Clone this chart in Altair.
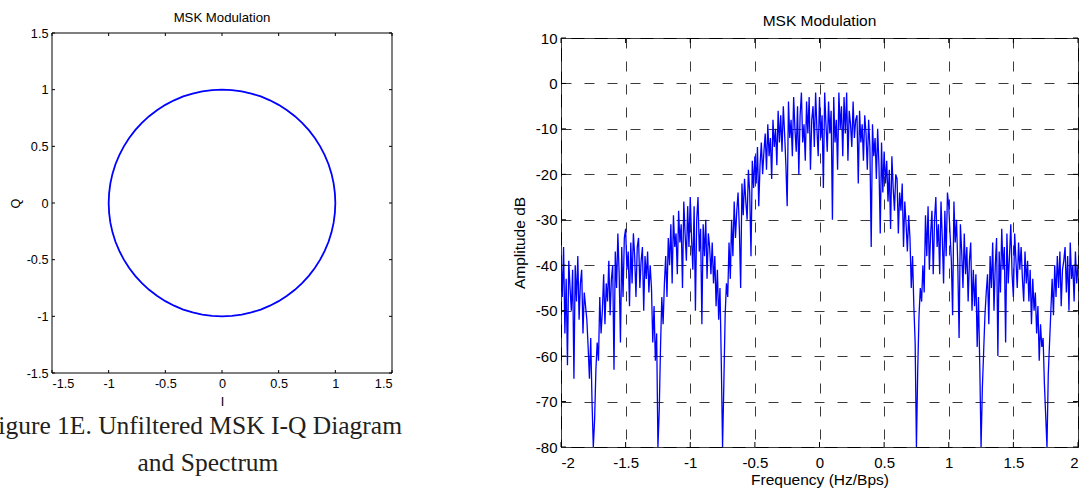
import altair as alt
import numpy as np
import pandas as pd

TITLE = "MSK Modulation"
CAPTION_1 = "Figure 1E. Unfiltered MSK I-Q Diagram"
CAPTION_2 = "and Spectrum"

# ---- I-Q diagram (unit circle, 5 degree steps) ----
iq_i = [1, 0.996, 0.985, 0.966, 0.940, 0.906, 0.866, 0.819, 0.766, 0.707,
        0.643, 0.574, 0.5, 0.423, 0.342, 0.259, 0.174, 0.087, 0,
        -0.087, -0.174, -0.259, -0.342, -0.423, -0.5, -0.574, -0.643, -0.707,
        -0.766, -0.819, -0.866, -0.906, -0.940, -0.966, -0.985, -0.996, -1,
        -0.996, -0.985, -0.966, -0.940, -0.906, -0.866, -0.819, -0.766, -0.707,
        -0.643, -0.574, -0.5, -0.423, -0.342, -0.259, -0.174, -0.087, 0,
        0.087, 0.174, 0.259, 0.342, 0.423, 0.5, 0.574, 0.643, 0.707,
        0.766, 0.819, 0.866, 0.906, 0.940, 0.966, 0.985, 0.996, 1]
iq_q = [0, 0.087, 0.174, 0.259, 0.342, 0.423, 0.5, 0.574, 0.643, 0.707,
        0.766, 0.819, 0.866, 0.906, 0.940, 0.966, 0.985, 0.996, 1,
        0.996, 0.985, 0.966, 0.940, 0.906, 0.866, 0.819, 0.766, 0.707,
        0.643, 0.574, 0.5, 0.423, 0.342, 0.259, 0.174, 0.087, 0,
        -0.087, -0.174, -0.259, -0.342, -0.423, -0.5, -0.574, -0.643, -0.707,
        -0.766, -0.819, -0.866, -0.906, -0.940, -0.966, -0.985, -0.996, -1,
        -0.996, -0.985, -0.966, -0.940, -0.906, -0.866, -0.819, -0.766, -0.707,
        -0.643, -0.574, -0.5, -0.423, -0.342, -0.259, -0.174, -0.087, 0]
iq_ticks = [-1.5, -1, -0.5, 0, 0.5, 1, 1.5]

# ---- Spectrum (Amplitude dB read every 0.01 Hz/Bps from -2 to 2) ----
freq = np.round(np.linspace(-2, 2, 401), 2)
amp_db = [
    -38, -47, -36, -55, -43, -62, -39, -45, -50, -41,   # -2.00
    -65, -40, -48, -38, -52, -44, -41, -55, -46, -49,   # -1.90
    -52, -58, -65, -56, -70, -80, -74, -63, -57, -61,   # -1.80
    -47, -55, -50, -42, -53, -44, -48, -39, -51, -43,   # -1.70
    -40, -63, -37, -45, -33, -42, -57, -36, -47, -34,   # -1.60
    -32, -41, -37, -49, -35, -44, -33, -38, -47, -36,   # -1.50
    -34, -45, -39, -36, -50, -38, -43, -37, -46, -40,   # -1.40
    -45, -57, -49, -61, -55, -80, -72, -58, -47, -53,   # -1.30
    -44, -38, -47, -34, -40, -31, -44, -29, -36, -33,   # -1.20
    -42, -28, -35, -31, -45, -26, -33, -39, -27, -36,   # -1.10
    -25, -34, -41, -27, -50, -30, -25, -37, -32, -53,   # -1.00
    -31, -38, -30, -43, -33, -36, -42, -35, -44, -38,   # -0.90
    -49, -41, -52, -45, -61, -80, -66, -51, -44, -47,   # -0.80
    -35, -43, -30, -38, -26, -34, -28, -24, -32, -45,   # -0.70
    -22, -29, -21, -26, -30, -19, -24, -38, -17, -23,   # -0.60
    -16, -22, -14, -27, -18, -13, -20, -15, -11, -19,   # -0.50
    -9, -16, -12, -21, -8, -14, -10, -18, -6, -13,      # -0.40
    -7, -15, -5, -11, -18, -27, -4, -12, -8, -16,       # -0.30
    -3, -10, -15, -5, -20, -7, -2, -13, -9, -17,        # -0.20
    -4, -11, -3, -19, -8, -5, -14, -2, -10, -16,        # -0.10
    -3, -12, -7, -23, -2, -9, -15, -4, -11, -6,         # 0.00
    -30, -3, -13, -8, -19, -2, -10, -5, -16, -3,        # 0.10
    -11, -2, -17, -6, -9, -14, -4, -12, -8, -7,         # 0.20
    -22, -6, -13, -9, -17, -7, -11, -19, -8, -14,       # 0.30
    -36, -9, -16, -12, -21, -10, -18, -33, -13, -24,    # 0.40
    -15, -22, -17, -26, -19, -32, -16, -23, -28, -20,   # 0.50
    -21, -33, -24, -28, -22, -36, -26, -31, -37, -29,   # 0.60
    -34, -45, -38, -49, -57, -80, -63, -51, -45, -48,   # 0.70
    -40, -46, -29, -38, -27, -41, -33, -28, -42, -30,   # 0.80
    -25, -36, -31, -42, -26, -34, -44, -28, -38, -24,   # 0.90
    -27, -33, -39, -51, -26, -35, -30, -40, -56, -31,   # 1.00
    -37, -45, -33, -42, -36, -48, -39, -35, -50, -41,   # 1.10
    -49, -42, -58, -47, -62, -80, -67, -59, -51, -46,   # 1.20
    -42, -53, -38, -45, -35, -50, -40, -34, -60, -37,   # 1.30
    -46, -32, -41, -36, -57, -33, -44, -38, -31, -42,   # 1.40
    -47, -33, -39, -45, -35, -41, -36, -43, -48, -37,   # 1.50
    -44, -39, -48, -41, -53, -43, -50, -46, -55, -49,   # 1.60
    -61, -53, -58, -56, -66, -73, -80, -64, -57, -50,   # 1.70
    -43, -51, -40, -47, -38, -45, -37, -49, -41, -39,   # 1.80
    -36, -46, -38, -50, -35, -43, -40, -48, -37, -44,   # 1.90
    -40,                                                # 2.00
]
spec_xticks = [-2, -1.5, -1, -0.5, 0, 0.5, 1, 1.5, 2]
spec_yticks = [10, 0, -10, -20, -30, -40, -50, -60, -70, -80]

FONT = "Liberation Sans"
BLUE = "#0000ff"


def mk_axis(fs, tfs, values, title, lp, tp, grid=False):
    kw = dict(values=values, title=title, grid=grid, ticks=False, domain=False,
              labelFont=FONT, labelFontSize=fs, labelColor="black",
              titleFont=FONT, titleFontSize=tfs, titleFontWeight="normal",
              titleColor="black", labelPadding=lp, titlePadding=tp,
              labelExpr="datum.value + ''")
    if grid:
        kw.update(gridColor="#3a3a3a", gridDash=[10, 13], gridWidth=1)
    return alt.Axis(**kw)


# ---------------- left panel ----------------
# plot box is 340 x 340 and sits 5 px higher than the spectrum's box
LW = 340
LUP = 5
LVH = 340 - LUP
L_FS = 12.7
iq_df = pd.DataFrame({"I": iq_i, "Q": iq_q, "k": list(range(len(iq_i)))})
iq_tick_df = pd.DataFrame({"v": iq_ticks})
sx_l = alt.Scale(domain=[-1.5, 1.5], nice=False, zero=False)
sy_l = alt.Scale(domain=[-1.5, 1.5], nice=False, zero=False, range=[LVH, -LUP])

ax_li = mk_axis(L_FS, L_FS, iq_ticks, "I", 4, 6)
ax_lq = mk_axis(L_FS, L_FS, iq_ticks, "Q", 4, 4)

circle = alt.Chart(iq_df).mark_line(color=BLUE, strokeWidth=1.8).encode(
    x=alt.X("I:Q", scale=sx_l, axis=ax_li),
    y=alt.Y("Q:Q", scale=sy_l, axis=ax_lq),
    order="k:Q",
)
l_top = alt.Chart(iq_tick_df).mark_rule(color="black").encode(
    x=alt.X("v:Q", scale=sx_l, axis=ax_li), y=alt.value(-LUP), y2=alt.value(-LUP + 3))
l_bot = alt.Chart(iq_tick_df).mark_rule(color="black").encode(
    x=alt.X("v:Q", scale=sx_l, axis=ax_li), y=alt.value(LVH), y2=alt.value(LVH - 3))
l_left = alt.Chart(iq_tick_df).mark_rule(color="black").encode(
    y=alt.Y("v:Q", scale=sy_l, axis=ax_lq), x=alt.value(0), x2=alt.value(3))
l_right = alt.Chart(iq_tick_df).mark_rule(color="black").encode(
    y=alt.Y("v:Q", scale=sy_l, axis=ax_lq), x=alt.value(LW), x2=alt.value(LW - 3))

box_df = pd.DataFrame({"lo": [-1.5], "hi": [1.5]})
box_h = alt.Chart(box_df).mark_rule(color="black").encode(
    x=alt.X("lo:Q", scale=sx_l, axis=ax_li), x2="hi:Q",
    y=alt.Y("lo:Q", scale=sy_l, axis=ax_lq))
box_h2 = alt.Chart(box_df).mark_rule(color="black").encode(
    x=alt.X("lo:Q", scale=sx_l, axis=ax_li), x2="hi:Q",
    y=alt.Y("hi:Q", scale=sy_l, axis=ax_lq))
box_v = alt.Chart(box_df).mark_rule(color="black").encode(
    y=alt.Y("lo:Q", scale=sy_l, axis=ax_lq), y2="hi:Q",
    x=alt.X("lo:Q", scale=sx_l, axis=ax_li))
box_v2 = alt.Chart(box_df).mark_rule(color="black").encode(
    y=alt.Y("lo:Q", scale=sy_l, axis=ax_lq), y2="hi:Q",
    x=alt.X("hi:Q", scale=sx_l, axis=ax_li))

cap1 = alt.Chart(pd.DataFrame({"t": [CAPTION_1]})).mark_text(
    font="Liberation Serif", fontSize=25.5, align="right", baseline="middle",
    color="#231f20").encode(x=alt.value(350), y=alt.value(388), text="t:N")
cap2 = alt.Chart(pd.DataFrame({"t": [CAPTION_2]})).mark_text(
    font="Liberation Serif", fontSize=25.5, align="center", baseline="middle",
    color="#231f20").encode(x=alt.value(156), y=alt.value(425), text="t:N")

left = alt.layer(circle, box_h, box_h2, box_v, box_v2, l_top, l_bot, l_left,
                 l_right, cap1, cap2).properties(
    width=LW, height=LVH,
    view=alt.ViewBackground(stroke="transparent"),
    title=alt.TitleParams(TITLE, font=FONT, fontSize=13.2, fontWeight="normal",
                          color="black", offset=2, anchor="middle"),
)

# ---------------- right panel ----------------
RW, RH = 517, 409
R_FS = 15
R_TFS = 15.5
spec_df = pd.DataFrame({"f": freq, "a": amp_db})
sx_r = alt.Scale(domain=[-2, 2], nice=False, zero=False)
sy_r = alt.Scale(domain=[-80, 10], nice=False, zero=False)
xt_df = pd.DataFrame({"v": spec_xticks})
yt_df = pd.DataFrame({"v": spec_yticks})

ax_rf = mk_axis(R_FS, R_TFS, spec_xticks, "Frequency (Hz/Bps)", 8, 2, grid=True)
ax_ra = mk_axis(R_FS, R_TFS, spec_yticks, "Amplitude dB", 4, 8, grid=True)

spec = alt.Chart(spec_df).mark_line(color=BLUE, strokeWidth=1.3, clip=True).encode(
    x=alt.X("f:Q", scale=sx_r, axis=ax_rf),
    y=alt.Y("a:Q", scale=sy_r, axis=ax_ra),
)
r_top = alt.Chart(xt_df).mark_rule(color="black").encode(
    x=alt.X("v:Q", scale=sx_r, axis=ax_rf), y=alt.value(0), y2=alt.value(5))
r_bot = alt.Chart(xt_df).mark_rule(color="black").encode(
    x=alt.X("v:Q", scale=sx_r, axis=ax_rf), y=alt.value(RH), y2=alt.value(RH - 5))
r_left = alt.Chart(yt_df).mark_rule(color="black").encode(
    y=alt.Y("v:Q", scale=sy_r, axis=ax_ra), x=alt.value(0), x2=alt.value(5))
r_right = alt.Chart(yt_df).mark_rule(color="black").encode(
    y=alt.Y("v:Q", scale=sy_r, axis=ax_ra), x=alt.value(RW), x2=alt.value(RW - 5))

right = alt.layer(spec, r_top, r_bot, r_left, r_right).properties(
    width=RW, height=RH,
    view=alt.ViewBackground(stroke="black", strokeWidth=1),
    title=alt.TitleParams(TITLE, font=FONT, fontSize=R_TFS, fontWeight="normal",
                          color="black", offset=2, anchor="middle"),
)

chart = alt.hconcat(left, right, spacing=108).properties(
    padding={"left": -17, "top": 10, "right": 0, "bottom": 0},
    background="white",
)

chart.save("out.html", embed_options={"renderer": "svg", "actions": False})
